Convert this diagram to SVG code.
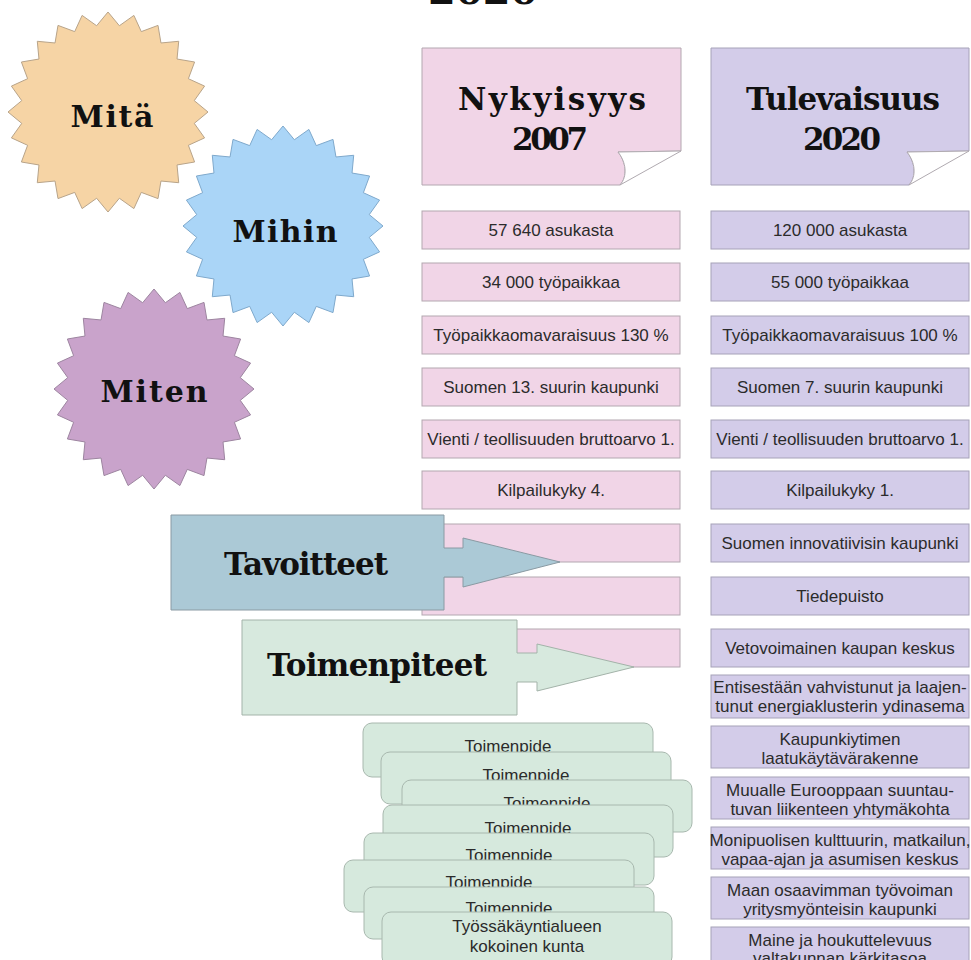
<svg xmlns="http://www.w3.org/2000/svg" xmlns:xlink="http://www.w3.org/1999/xlink" width="971" height="960" viewBox="0 0 971 960">
<style>
  .bp { fill:#f1d5e7; stroke:#b3a7b0; stroke-width:1; }
  .bv { fill:#d3cce9; stroke:#a6a2b8; stroke-width:1; }
  .fold { fill:#ffffff; stroke:#b0aab0; stroke-width:1; }
  .tm { fill:#d6e9dd; stroke:#a8b8ae; stroke-width:1; }
  .t { font-family:"Liberation Sans", Arial, sans-serif; font-size:17px; fill:#2b2b2b; text-anchor:middle; }
  .cal { font-family:"DejaVu Serif", "Liberation Serif", serif; font-weight:bold; fill:#111111; text-anchor:middle; }
</style>
<defs>
  <polygon id="star" points="100,0 86.26,11.36 96.59,25.88 80.38,33.29 86.6,50 69.02,52.96 70.71,70.71 52.96,69.02 50,86.6 33.29,80.38 25.88,96.59 11.36,86.26 0,100 -11.36,86.26 -25.88,96.59 -33.29,80.38 -50,86.6 -52.96,69.02 -70.71,70.71 -69.02,52.96 -86.6,50 -80.38,33.29 -96.59,25.88 -86.26,11.36 -100,0 -86.26,-11.36 -96.59,-25.88 -80.38,-33.29 -86.6,-50 -69.02,-52.96 -70.71,-70.71 -52.96,-69.02 -50,-86.6 -33.29,-80.38 -25.88,-96.59 -11.36,-86.26 0,-100 11.36,-86.26 25.88,-96.59 33.29,-80.38 50,-86.6 52.96,-69.02 70.71,-70.71 69.02,-52.96 86.6,-50 80.38,-33.29 96.59,-25.88 86.26,-11.36"/>
</defs>
<rect width="971" height="960" fill="#ffffff"/>

<g id="title">
  <text class="cal" x="483" y="4" font-size="40" textLength="110">2020</text>
</g>

<g id="star-mita">
  <use xlink:href="#star" transform="translate(108,112)" fill="#f6d4a5" stroke="#b8a48a" stroke-width="1"/>
  <text class="cal" x="112" y="127" font-size="30" textLength="83">Mitä</text>
</g>
<g id="star-miten">
  <use xlink:href="#star" transform="translate(154,389)" fill="#c9a3cb" stroke="#9d85a0" stroke-width="1"/>
  <text class="cal" x="154" y="402" font-size="30" textLength="107">Miten</text>
</g>
<g id="star-mihin">
  <use xlink:href="#star" transform="translate(283,226)" fill="#aad5f7" stroke="#7fa9cc" stroke-width="1"/>
  <text class="cal" x="285" y="242" font-size="30" textLength="105">Mihin</text>
</g>

<g id="header-nykyisyys">
  <path class="bp" d="M422,48 H681 V151 L618,152 C626,162 628,176 620,185 H422 Z"/>
  <path class="fold" d="M618,152 L681,151 L620,185 C628,176 626,162 618,152 Z"/>
  <text class="cal" x="552" y="110" font-size="31" textLength="188">Nykyisyys</text>
  <text class="cal" x="550" y="150" font-size="31" textLength="76">2007</text>
</g>
<g id="header-tulevaisuus">
  <path class="bv" d="M711,48 H969 V151 L907,152 C915,162 917,176 909,185 H711 Z"/>
  <path class="fold" d="M907,152 L969,151 L909,185 C917,176 915,162 907,152 Z"/>
  <text class="cal" x="843" y="110" font-size="31" textLength="194">Tulevaisuus</text>
  <text class="cal" x="842" y="150" font-size="31" textLength="78">2020</text>
</g>

<g id="now-column">
  <g id="now-1"><rect class="bp" x="422" y="211" width="258" height="38"/><text class="t" x="551" y="236">57 640 asukasta</text></g>
  <g id="now-2"><rect class="bp" x="422" y="263" width="258" height="38"/><text class="t" x="551" y="288">34 000 työpaikkaa</text></g>
  <g id="now-3"><rect class="bp" x="422" y="316" width="258" height="38"/><text class="t" x="551" y="341">Työpaikkaomavaraisuus 130 %</text></g>
  <g id="now-4"><rect class="bp" x="422" y="368" width="258" height="38"/><text class="t" x="551" y="393">Suomen 13. suurin kaupunki</text></g>
  <g id="now-5"><rect class="bp" x="422" y="420" width="258" height="38"/><text class="t" x="551" y="445">Vienti / teollisuuden bruttoarvo 1.</text></g>
  <g id="now-6"><rect class="bp" x="422" y="471" width="258" height="38"/><text class="t" x="551" y="496">Kilpailukyky 4.</text></g>
  <g id="now-7"><rect class="bp" x="422" y="524" width="258" height="38"/></g>
  <g id="now-8"><rect class="bp" x="422" y="577" width="258" height="38"/></g>
  <g id="now-9"><rect class="bp" x="422" y="629" width="258" height="38"/></g>
</g>

<g id="future-column">
  <g id="fut-1"><rect class="bv" x="711" y="211" width="258" height="38"/><text class="t" x="840" y="236">120 000 asukasta</text></g>
  <g id="fut-2"><rect class="bv" x="711" y="263" width="258" height="38"/><text class="t" x="840" y="288">55 000 työpaikkaa</text></g>
  <g id="fut-3"><rect class="bv" x="711" y="316" width="258" height="38"/><text class="t" x="840" y="341">Työpaikkaomavaraisuus 100 %</text></g>
  <g id="fut-4"><rect class="bv" x="711" y="368" width="258" height="38"/><text class="t" x="840" y="393">Suomen 7. suurin kaupunki</text></g>
  <g id="fut-5"><rect class="bv" x="711" y="420" width="258" height="38"/><text class="t" x="840" y="445">Vienti / teollisuuden bruttoarvo 1.</text></g>
  <g id="fut-6"><rect class="bv" x="711" y="471" width="258" height="38"/><text class="t" x="840" y="496">Kilpailukyky 1.</text></g>
  <g id="fut-7"><rect class="bv" x="711" y="524" width="258" height="38"/><text class="t" x="840" y="549">Suomen innovatiivisin kaupunki</text></g>
  <g id="fut-8"><rect class="bv" x="711" y="577" width="258" height="38"/><text class="t" x="840" y="602">Tiedepuisto</text></g>
  <g id="fut-9"><rect class="bv" x="711" y="629" width="258" height="38"/><text class="t" x="840" y="654">Vetovoimainen kaupan keskus</text></g>
  <g id="fut-10"><rect class="bv" x="711" y="675" width="258" height="43"/><text class="t" x="840" y="693">Entisestään vahvistunut ja laajen-</text><text class="t" x="840" y="712">tunut energiaklusterin ydinasema</text></g>
  <g id="fut-11"><rect class="bv" x="711" y="726" width="258" height="42"/><text class="t" x="840" y="745">Kaupunkiytimen</text><text class="t" x="840" y="764">laatukäytävärakenne</text></g>
  <g id="fut-12"><rect class="bv" x="711" y="777" width="258" height="42"/><text class="t" x="840" y="796">Muualle Eurooppaan suuntau-</text><text class="t" x="840" y="815">tuvan liikenteen yhtymäkohta</text></g>
  <g id="fut-13"><rect class="bv" x="711" y="827" width="258" height="42"/><text class="t" x="840" y="846">Monipuolisen kulttuurin, matkailun,</text><text class="t" x="840" y="865">vapaa-ajan ja asumisen keskus</text></g>
  <g id="fut-14"><rect class="bv" x="711" y="877" width="258" height="42"/><text class="t" x="840" y="896">Maan osaavimman työvoiman</text><text class="t" x="840" y="915">yritysmyönteisin kaupunki</text></g>
  <g id="fut-15"><rect class="bv" x="711" y="927" width="258" height="42"/><text class="t" x="840" y="946">Maine ja houkuttelevuus</text><text class="t" x="840" y="964">valtakunnan kärkitasoa</text></g>
</g>

<g id="tavoitteet">
  <path d="M171,515 H444 V548 H463 V538 L560,562 L463,587 V577 H444 V610 H171 Z" fill="#abc9d6" stroke="#8a9aa3" stroke-width="1"/>
  <text class="cal" x="306" y="575" font-size="31" textLength="164">Tavoitteet</text>
</g>
<g id="toimenpiteet">
  <path d="M242,620 H517 V653 H537 V644 L634,667 L537,691 V682 H517 V715 H242 Z" fill="#d7e9de" stroke="#a3b3a9" stroke-width="1"/>
  <text class="cal" x="377" y="676" font-size="31" textLength="220">Toimenpiteet</text>
</g>

<g id="toimenpide-stack">
  <g id="tp-1"><rect class="tm" x="363" y="723" width="290" height="54" rx="9"/><text class="t" x="508" y="752">Toimenpide</text></g>
  <g id="tp-2"><rect class="tm" x="381" y="752" width="290" height="52" rx="9"/><text class="t" x="526" y="781">Toimenpide</text></g>
  <g id="tp-3"><rect class="tm" x="402" y="780" width="290" height="52" rx="9"/><text class="t" x="547" y="809">Toimenpide</text></g>
  <g id="tp-4"><rect class="tm" x="383" y="805" width="290" height="52" rx="9"/><text class="t" x="528" y="834">Toimenpide</text></g>
  <g id="tp-5"><rect class="tm" x="364" y="833" width="290" height="52" rx="9"/><text class="t" x="509" y="861">Toimenpide</text></g>
  <g id="tp-6"><rect class="tm" x="344" y="860" width="290" height="52" rx="9"/><text class="t" x="489" y="888">Toimenpide</text></g>
  <g id="tp-7"><rect class="tm" x="364" y="887" width="290" height="52" rx="9"/><text class="t" x="509" y="914">Toimenpide</text></g>
  <g id="tp-8"><rect class="tm" x="382" y="912" width="290" height="54" rx="9"/><text class="t" x="527" y="932">Työssäkäyntialueen</text><text class="t" x="527" y="952">kokoinen kunta</text></g>
</g>

<g id="connectors"/>
</svg>
